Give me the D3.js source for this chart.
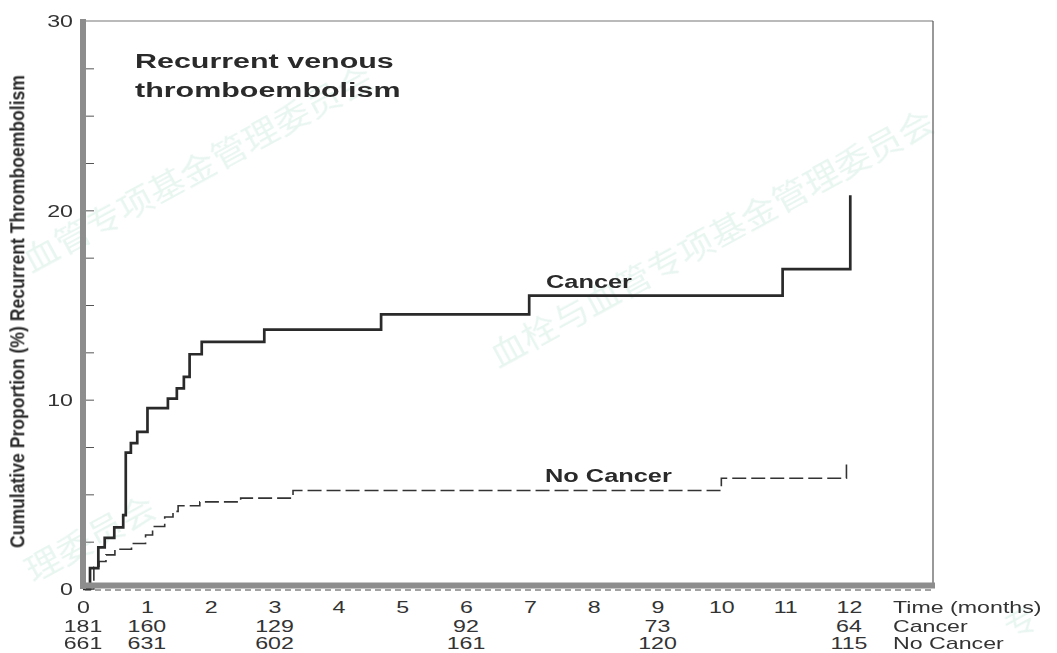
<!DOCTYPE html>
<html>
<head>
<meta charset="utf-8">
<script src="https://cdn.jsdelivr.net/npm/d3@7"></script>
<style>
  html, body { margin: 0; padding: 0; background: #fff; }
  svg { display: block; }
</style>
</head>
<body>
<svg id="chart" width="1057" height="653"></svg>
<script>
// Kaplan-Meier style cumulative incidence of recurrent VTE, months 0-12
const cancerTime = [0, 0.11, 0.24, 0.34, 0.49, 0.63, 0.67, 0.75, 0.85, 1.01, 1.33, 1.47, 1.58, 1.67, 1.86, 2.84, 4.67, 6.99, 10.96, 12.02];
const cancerCum  = [0, 1.1, 2.2, 2.7, 3.25, 3.9, 7.2, 7.7, 8.3, 9.55, 10.05, 10.6, 11.2, 12.4, 13.05, 13.7, 14.5, 15.5, 16.9, 20.8];

const noCancerTime = [0, 0.17, 0.25, 0.36, 0.50, 0.76, 0.98, 1.09, 1.28, 1.41, 1.49, 1.83, 2.47, 3.29, 10.0, 11.96];
const noCancerCum  = [0, 1.15, 1.45, 1.8, 2.1, 2.4, 2.85, 3.3, 3.8, 4.1, 4.4, 4.6, 4.8, 5.2, 5.85, 6.6];

// axis ticks
const xTickLabels = [0, 1, 2, 3, 4, 5, 6, 7, 8, 9, 10, 11, 12];
const yTickLabels = [0, 10, 20, 30];
const yMinorTicks = [2.5, 5, 7.5, 10, 12.5, 15, 17.5, 20, 22.5, 25, 27.5];

// numbers at risk
const riskTimes    = [0, 1, 3, 6, 9, 12];
const cancerRisk   = [181, 160, 129, 92, 73, 64];
const noCancerRisk = [661, 631, 602, 161, 120, 115];
const riskRowNames = ["Time (months)", "Cancer", "No Cancer"];

// background watermark pieces: [text, x, y, length]
const watermarks = [
  ["血管专项基金管理委员会", 31, 273, 393],
  ["血栓与血管专项基金管理委员会", 498, 368, 500],
  ["理委员会", 33, 583, 143],
  ["专", 1012, 640, 32]
];

const SX = 1.45;           // horizontal text stretch
const FONT = "'Liberation Sans', Arial, Helvetica, sans-serif";
const INK = "#2a2a2a";
const AXIS = "#8d8d8d";

const svg = d3.select("#chart");
const x = d3.scaleLinear().domain([0, 12]).range([83, 849]);
const y = d3.scaleLinear().domain([0, 30]).range([589, 21]);

// faint diagonal watermark
const wm = svg.append("g").attr("fill", "#3fae82").attr("opacity", 0.12)
  .style("font-family", "'Noto Sans CJK SC', sans-serif").style("font-size", "32px");
watermarks.forEach(([txt, px, py, len]) => {
  wm.append("text")
    .attr("transform", `translate(${px},${py}) rotate(-28.6)`)
    .attr("textLength", len).attr("lengthAdjust", "spacingAndGlyphs")
    .text(txt);
});

// stretched text helper
function label(g, txt, px, py, opts = {}) {
  return g.append("text")
    .attr("transform", `translate(${px},${py}) scale(${SX},1)`)
    .attr("text-anchor", opts.anchor || "start")
    .style("font-family", FONT)
    .style("font-size", (opts.size || 16) + "px")
    .style("font-weight", opts.bold ? "bold" : "normal")
    .attr("fill", opts.fill || "#333")
    .text(txt);
}

// plot frame (top and right edges)
svg.append("line").attr("x1", 83).attr("x2", 933).attr("y1", 21).attr("y2", 21)
  .attr("stroke", "#777").attr("stroke-width", 1.2);
svg.append("line").attr("x1", 933).attr("x2", 933).attr("y1", 21).attr("y2", 587)
  .attr("stroke", "#555").attr("stroke-width", 1.2);

// curves
const step = d3.line().curve(d3.curveStepAfter).x(d => x(d[0])).y(d => y(d[1]));
const cancerPts = cancerTime.map((t, i) => [t, cancerCum[i]]);
const noCancerPts = noCancerTime.map((t, i) => [t, noCancerCum[i]]);

svg.append("path").datum(noCancerPts).attr("d", step)
  .attr("fill", "none").attr("stroke", "#333").attr("stroke-width", 1.6)
  .attr("stroke-dasharray", "14,5");
svg.append("path").datum(cancerPts).attr("d", step)
  .attr("fill", "none").attr("stroke", INK).attr("stroke-width", 2.7);

// minor y ticks pointing into the plot
const yMinor = svg.append("g").attr("transform", "translate(85,0)")
  .call(d3.axisRight(y).tickValues(yMinorTicks).tickSize(9).tickFormat(""));
yMinor.select(".domain").remove();
yMinor.selectAll(".tick line").attr("stroke", "#555").attr("stroke-width", 1);

// x minor ticks under the axis
svg.append("line").attr("x1", 85).attr("x2", 933).attr("y1", 590).attr("y2", 590)
  .attr("stroke", "#444").attr("stroke-width", 1).attr("stroke-dasharray", "6,4");

// thick axis lines
svg.append("line").attr("x1", 83).attr("x2", 83).attr("y1", 19).attr("y2", 589)
  .attr("stroke", AXIS).attr("stroke-width", 6);
svg.append("line").attr("x1", 80).attr("x2", 935).attr("y1", 585.5).attr("y2", 585.5)
  .attr("stroke", AXIS).attr("stroke-width", 6);

// y tick labels
const yAx = svg.append("g").attr("transform", "translate(83,0)")
  .call(d3.axisLeft(y).tickValues(yTickLabels).tickSize(0).tickFormat(d3.format("d")));
yAx.select(".domain").remove();
yAx.selectAll(".tick text")
  .attr("x", 0).attr("dy", "0.36em")
  .attr("transform", `translate(-10,0) scale(${SX},1)`)
  .style("font-family", FONT).style("font-size", "16px").attr("fill", "#333");

// x tick labels
const xAx = svg.append("g").attr("transform", "translate(0,589)")
  .call(d3.axisBottom(x).tickValues(xTickLabels).tickSize(0).tickFormat(d3.format("d")));
xAx.select(".domain").remove();
xAx.selectAll(".tick text")
  .attr("y", 0).attr("dy", 0)
  .attr("transform", `translate(0,24) scale(${SX},1)`)
  .style("font-family", FONT).style("font-size", "16px").attr("fill", "#333");

// number-at-risk table
const risk = svg.append("g");
riskTimes.forEach((t, i) => {
  label(risk, cancerRisk[i], x(t), 631.5, { anchor: "middle" });
  label(risk, noCancerRisk[i], x(t), 649, { anchor: "middle" });
});
label(risk, riskRowNames[0], 893, 613);
label(risk, riskRowNames[1], 893, 631.5);
label(risk, riskRowNames[2], 893, 649);

// title
const ann = svg.append("g");
label(ann, "Recurrent venous", 135, 68, { size: 21, bold: true, fill: INK });
label(ann, "thromboembolism", 135, 97, { size: 21, bold: true, fill: INK });

// series labels
label(ann, "Cancer", 546, 288, { size: 17.5, bold: true, fill: INK });
label(ann, "No Cancer", 545, 482, { size: 17.5, bold: true, fill: INK });

// y axis title
svg.append("text")
  .attr("transform", "translate(24.5,311.5) rotate(-90) scale(1,1.45)")
  .attr("text-anchor", "middle")
  .attr("textLength", 473).attr("lengthAdjust", "spacingAndGlyphs")
  .style("font-family", FONT).style("font-size", "14.5px").style("font-weight", "bold")
  .attr("fill", INK)
  .text("Cumulative Proportion (%) Recurrent Thromboembolism");
</script>
</body>
</html>
